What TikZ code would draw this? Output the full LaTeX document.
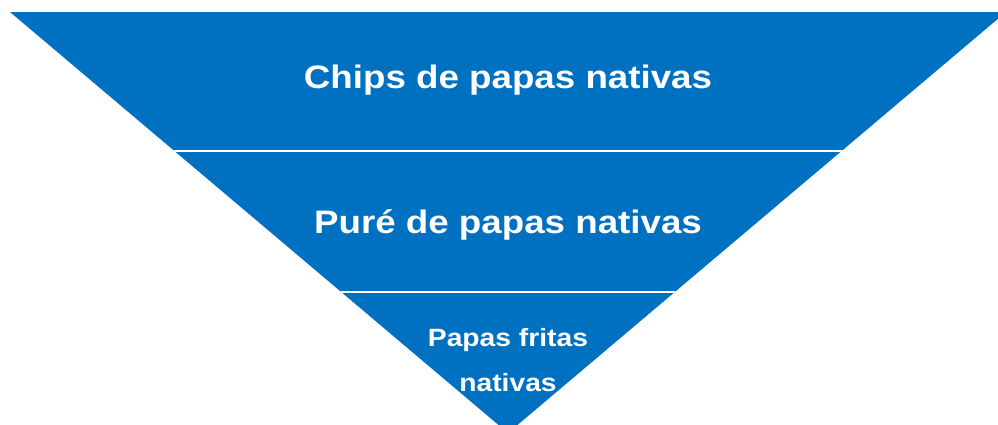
\documentclass[tikz,border=0pt]{standalone}
\usepackage{fontspec}
\usetikzlibrary{positioning}
\newfontfamily\pyrfont[FakeStretch=1.13]{Liberation Sans}
\definecolor{pyrBlue}{RGB}{0, 112, 192}
\tikzset{
  bandlabel/.style={text=white, inner sep=0pt, anchor=base,
    font=\pyrfont\bfseries\fontsize{32.5}{39}\selectfont},
  tiplabel/.style={bandlabel, align=center,
    font=\pyrfont\bfseries\fontsize{25}{45}\selectfont}
}
\begin{document}
\begin{tikzpicture}[x=1pt, y=-1pt]
    \useasboundingbox (0,0) rectangle (998,425);
    % inverted triangle, cut into three bands
    \begin{scope}
        \clip (10,12) -- (1006,12) -- (508,433) -- cycle;
        \fill[pyrBlue] (0,12) rectangle (1010,433);
        \draw[white, line width=2pt] (0,151) -- (1010,151);
        \draw[white, line width=2pt] (0,292) -- (1010,292);
    \end{scope}
    \node[bandlabel] (chips) at (508,89) {Chips de papas nativas};
    \node[bandlabel] (pure) at (508,233) {Puré de papas nativas};
    \node[tiplabel] (fritas) at (508,391) {Papas fritas\\nativas};
\end{tikzpicture}
\end{document}
